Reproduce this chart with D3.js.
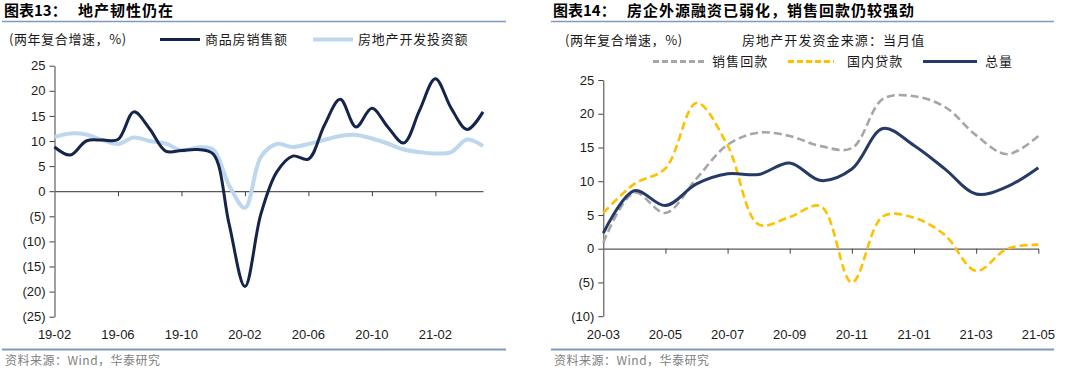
<!DOCTYPE html>
<html><head><meta charset="utf-8">
<script src="https://cdn.jsdelivr.net/npm/d3@7"></script>
<style>
html,body{margin:0;padding:0;background:#fff;}
svg{display:block;}
.cjk{font-family:"Noto Sans CJK SC","Noto Sans",sans-serif;}
.num{font-family:"Liberation Sans",Arial,sans-serif;}
</style></head>
<body><svg id="c" width="1080" height="372"></svg>
<script>
// ---------- data ----------
const leftMonths = ["19-02","19-03","19-04","19-05","19-06","19-07","19-08","19-09","19-10","19-11","19-12",
  "20-01","20-02","20-03","20-04","20-05","20-06","20-07","20-08","20-09","20-10","20-11","20-12",
  "21-01","21-02","21-03","21-04","21-05"];
const salesAmount = [8.8,7.2,10.0,10.2,10.3,15.8,12.4,8.0,8.1,8.3,7.4,
  -6.5,-19.0,-4.6,3.8,7.0,6.4,13.1,18.3,12.8,16.5,12.8,9.6,
  16.1,22.4,16.5,12.3,15.8];
const investAmount = [10.8,11.5,11.3,10.2,9.4,10.7,10.0,9.5,8.1,8.7,8.3,
  1.2,-3.3,6.8,9.4,8.8,9.4,10.2,11.0,11.2,10.5,9.5,8.3,
  7.8,7.5,7.8,10.3,9.0];
const leftXTicks = ["19-06","19-10","20-02","20-06","20-10","21-02"];
const leftXLabels = ["19-02","19-06","19-10","20-02","20-06","20-10","21-02"];
const leftYTicks = [-25,-20,-15,-10,-5,0,5,10,15,20,25];

const rightMonths = ["20-03","20-04","20-05","20-06","20-07","20-08","20-09","20-10","20-11","20-12",
  "21-01","21-02","21-03","21-04","21-05"];
const salesReturn = [0.9,8.3,5.3,10.4,15.4,17.2,16.7,15.2,14.9,22.2,22.6,21.0,16.8,14.0,16.7];
const domesticLoan = [5.3,9.6,11.9,21.6,15.3,3.6,4.7,6.3,-5.0,4.8,4.6,2.0,-3.3,0.0,0.6];
const totalFunds = [2.3,8.6,6.4,9.6,11.1,11.0,12.7,10.1,11.8,17.8,15.3,11.8,8.1,9.2,12.0];
const rightXTicks = ["20-05","20-07","20-09","20-11","21-01","21-03","21-05"];
const rightXLabels = ["20-03","20-05","20-07","20-09","20-11","21-01","21-03","21-05"];
const rightYTicks = [-10,-5,0,5,10,15,20,25];

// ---------- drawing ----------
const svg = d3.select("#c");
const fmt = v => v < 0 ? "(" + (-v) + ")" : String(v);
const TITLE_LINE = "#8099BD";

function header(x0, x1, tag, title, titleX) {
  svg.append("text").attr("class","cjk").attr("x", x0 + 2).attr("y", 16)
    .attr("font-size", 15).attr("font-weight", 700).attr("fill", "#000").text(tag);
  svg.append("text").attr("class","cjk").attr("x", titleX).attr("y", 16)
    .attr("font-size", 15).attr("font-weight", 700).attr("letter-spacing", 1).attr("fill", "#000").text(title);
  svg.append("line").attr("x1", x0).attr("x2", x1).attr("y1", 21.5).attr("y2", 21.5)
    .attr("stroke", TITLE_LINE).attr("stroke-width", 1.5);
  svg.append("line").attr("x1", x0).attr("x2", x1).attr("y1", 349.5).attr("y2", 349.5)
    .attr("stroke", TITLE_LINE).attr("stroke-width", 2);
  svg.append("text").attr("class","cjk").attr("x", x0 + 3).attr("y", 365)
    .attr("font-size", 12).attr("fill", "#808080").attr("letter-spacing", 0.5).text("资料来源：Wind，华泰研究");
}

function panel(cfg) {
  const x = d3.scalePoint().domain(cfg.months).range(cfg.xr);
  const y = d3.scaleLinear().domain([cfg.yTicks[0], cfg.yTicks[cfg.yTicks.length-1]]).range(cfg.yr);
  const g = svg.append("g");
  // y axis
  const ya = g.append("g").attr("transform", `translate(${cfg.xr[0]},0)`)
    .call(d3.axisLeft(y).tickValues(cfg.yTicks).tickFormat(fmt).tickSizeInner(5).tickSizeOuter(0).tickPadding(4));
  ya.select(".domain").attr("stroke", "#404040");
  ya.selectAll(".tick line").attr("stroke", "#404040");
  ya.selectAll(".tick text").attr("class","num").attr("font-size", 13).attr("fill", "#1a1a1a");
  // x axis on zero line
  const xa = g.append("g").attr("transform", `translate(0,${y(0)})`)
    .call(d3.axisBottom(x).tickValues(cfg.xTicks).tickFormat("").tickSizeInner(5).tickSizeOuter(0));
  xa.select(".domain").attr("stroke", "#5a5a5a").attr("stroke-width", 1.3);
  xa.selectAll(".tick line").attr("stroke", "#404040");
  // x labels at bottom
  g.selectAll(".xl").data(cfg.xLabels).join("text").attr("class","num")
    .attr("x", d => x(d)).attr("y", 339).attr("text-anchor","middle")
    .attr("font-size", 13).attr("fill", "#1a1a1a").text(d => d);
  // series
  const line = d3.line().x((d,i) => x(cfg.months[i])).y(d => y(d)).curve(d3.curveCatmullRom.alpha(0.5));
  cfg.series.forEach(s => {
    g.append("path").datum(s.values).attr("d", line).attr("fill","none")
      .attr("stroke", s.color).attr("stroke-width", s.width)
      .attr("stroke-dasharray", s.dash || null).attr("stroke-linejoin","round");
  });
}

// left chart
header(2, 506, "图表13：", "地产韧性仍在", 78);
svg.append("text").attr("class","cjk").attr("x", 9).attr("y", 44).attr("font-size", 13)
  .attr("letter-spacing", 0.6).attr("fill","#1a1a1a").text("(两年复合增速，%)");
const leftSeries = [
  {name:"房地产开发投资额", values: investAmount, color:"#BDD7EE", width:4},
  {name:"商品房销售额", values: salesAmount, color:"#14244B", width:3}
];
[[leftSeries[1], 160, 205],[leftSeries[0], 313, 358]].forEach(([s, lx, tx]) => {
  svg.append("line").attr("x1", lx).attr("x2", lx + 40).attr("y1", 39.5).attr("y2", 39.5)
    .attr("stroke", s.color).attr("stroke-width", s.width);
  svg.append("text").attr("class","cjk").attr("x", tx).attr("y", 44).attr("font-size", 13)
    .attr("letter-spacing", 0.8).attr("fill","#1a1a1a").text(s.name);
});
panel({months: leftMonths, xr:[54.5, 483], yr:[316.7, 65.7], yTicks: leftYTicks,
  xTicks: leftXTicks, xLabels: leftXLabels, series: leftSeries});

// right chart
header(551, 1054, "图表14：", "房企外源融资已弱化，销售回款仍较强劲", 627);
svg.append("text").attr("class","cjk").attr("x", 565).attr("y", 45).attr("font-size", 13)
  .attr("letter-spacing", 0.6).attr("fill","#1a1a1a").text("(两年复合增速，%)");
svg.append("text").attr("class","cjk").attr("x", 742).attr("y", 45).attr("font-size", 13)
  .attr("letter-spacing", 1.1).attr("fill","#1a1a1a").text("房地产开发资金来源：当月值");
const rightSeries = [
  {name:"销售回款", values: salesReturn, color:"#A6A6A6", width:2.6, dash:"8,4"},
  {name:"国内贷款", values: domesticLoan, color:"#FFC000", width:2.6, dash:"8,4"},
  {name:"总量", values: totalFunds, color:"#253A66", width:3}
];
[[rightSeries[0], 653, 712, 52],[rightSeries[1], 788, 847, 46],[rightSeries[2], 923, 985, 54]].forEach(([s, lx, tx, lw]) => {
  svg.append("line").attr("x1", lx).attr("x2", lx + lw).attr("y1", 61.5).attr("y2", 61.5)
    .attr("stroke", s.color).attr("stroke-width", s.dash ? 3 : 3.2)
    .attr("stroke-dasharray", s.dash ? "6,3" : null);
  svg.append("text").attr("class","cjk").attr("x", tx).attr("y", 66).attr("font-size", 13)
    .attr("letter-spacing", 1.1).attr("fill","#1a1a1a").text(s.name);
});
panel({months: rightMonths, xr:[603.3, 1038.3], yr:[316.2, 80], yTicks: rightYTicks,
  xTicks: rightXTicks, xLabels: rightXLabels, series: rightSeries});
</script></body></html>
